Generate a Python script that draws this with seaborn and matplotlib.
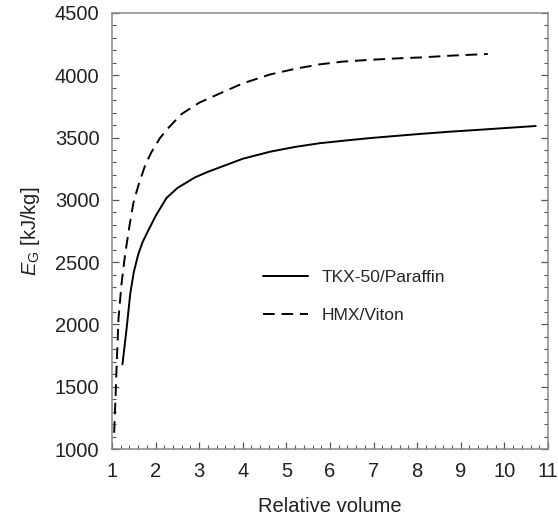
import numpy as np
import pandas as pd
import seaborn as sns
import matplotlib
matplotlib.use('Agg')
import matplotlib.pyplot as plt
from matplotlib.ticker import MultipleLocator

# values
tkx_v = [1.24, 1.33, 1.42, 1.50, 1.60, 1.70, 1.83, 2.0, 2.25, 2.5, 2.9, 3.2, 3.48, 4.0,
         4.62, 5.2, 5.77, 6.4, 6.92, 7.5, 8.06, 8.7, 9.4, 10.0, 10.72]
tkx_e = [1680, 1950, 2250, 2420, 2560, 2660, 2753, 2870, 3015, 3095, 3180, 3225, 3262, 3330,
         3386, 3425, 3455, 3478, 3496, 3513, 3529, 3546, 3562, 3576, 3593]
hmx_v = [1.05, 1.08, 1.11, 1.15, 1.22, 1.30, 1.40, 1.49, 1.6, 1.76, 1.9, 2.10, 2.3, 2.60,
         3.0, 3.48, 4.0, 4.62, 5.2, 5.77, 6.3, 6.92, 7.5, 8.06, 8.8, 9.62]
hmx_e = [1130, 1400, 1700, 2050, 2330, 2560, 2790, 2973, 3110, 3277, 3380, 3496, 3580, 3690,
         3780, 3855, 3935, 4006, 4052, 4088, 4110, 4124, 4135, 4143, 4158, 4171]
labels = ['TKX-50/Paraffin', 'HMX/Viton']

sns.set_style('ticks')
plt.rcParams['font.family'] = ['Liberation Sans', 'DejaVu Sans']
plt.rcParams['mathtext.fontset'] = 'custom'
plt.rcParams['mathtext.rm'] = 'Liberation Sans'
plt.rcParams['mathtext.it'] = 'Liberation Sans:italic'

fig = plt.figure(figsize=(5.58, 5.2), dpi=100)
ax = fig.add_axes([0.2007, 0.1365, 0.7813, 0.8385])

sns.lineplot(x=tkx_v, y=tkx_e, color='black', lw=1.4, label=labels[0], ax=ax, sort=False)
sns.lineplot(x=hmx_v, y=hmx_e, color='black', lw=1.4, label=labels[1], ax=ax, sort=False,
             linestyle=(0, (6, 3.5)))

ax.set_xlim(1, 11)
ax.set_ylim(1000, 4500)
ax.xaxis.set_major_locator(MultipleLocator(1))
ax.xaxis.set_minor_locator(MultipleLocator(0.2))
ax.yaxis.set_major_locator(MultipleLocator(500))
ax.yaxis.set_minor_locator(MultipleLocator(100))
ax.tick_params(which='both', direction='in', left=True, right=True, bottom=True, top=False,
               color='#555555', labelsize=14.5, labelcolor='#222222')
ax.tick_params(which='major', length=5, width=0.9, pad=9)
ax.tick_params(which='minor', length=3, width=0.8)
for s in ax.spines.values():
    s.set_color('#888888')
    s.set_linewidth(1.1)

ax.set_xlabel('Relative volume', fontsize=14.5, color='#222222', labelpad=12)
ax.set_ylabel(r'$E_{\mathrm{G}}$ [kJ/kg]', fontsize=14.5, color='#222222', labelpad=9)

leg = ax.legend(loc='center left', bbox_to_anchor=(0.31, 0.35), frameon=False, fontsize=12.5,
                handlelength=2.6, handletextpad=0.8, labelspacing=1.3)

fig.savefig('out.png', dpi=100)
